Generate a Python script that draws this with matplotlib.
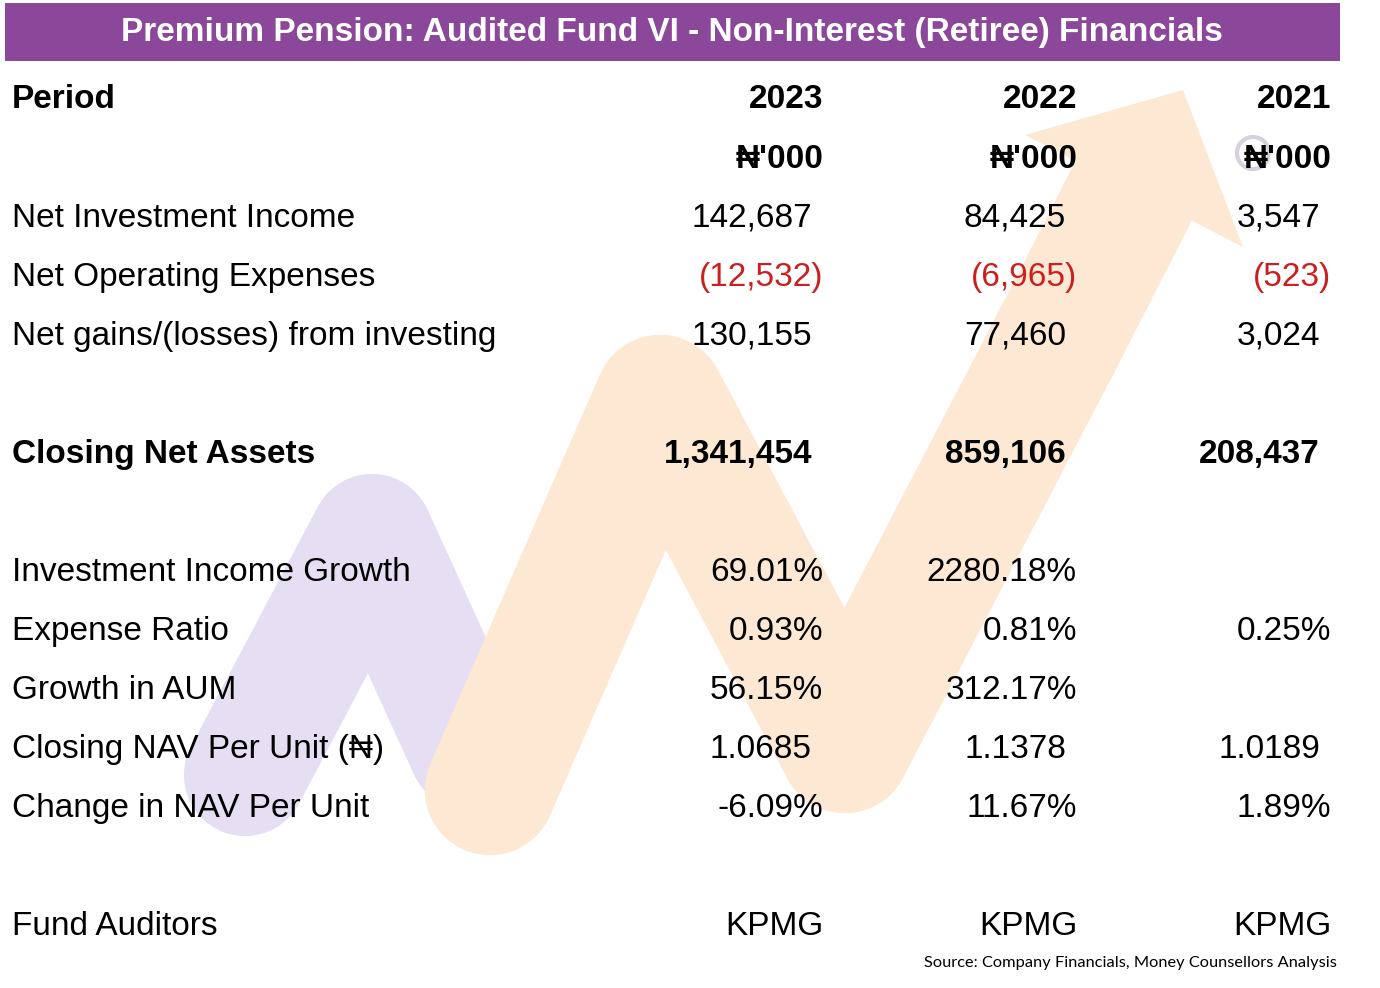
import matplotlib.pyplot as plt
from matplotlib.patches import Rectangle, Polygon, Circle

# ----------------------------------------------------------------------------- #
#                                   DATOS
# ----------------------------------------------------------------------------- #
titulo = "Premium Pension: Audited Fund VI - Non-Interest (Retiree) Financials"
fuente = "Source: Company Financials, Money Counsellors Analysis"

anios = ["2023", "2022", "2021"]
unidad = "\u20a6'000"

net_investment_income = [142687, 84425, 3547]
net_operating_expenses = [-12532, -6965, -523]
net_gains = [130155, 77460, 3024]
closing_net_assets = [1341454, 859106, 208437]

investment_income_growth = [69.01, 2280.18, None]
expense_ratio = [0.93, 0.81, 0.25]
growth_in_aum = [56.15, 312.17, None]
closing_nav = [1.0685, 1.1378, 1.0189]
change_in_nav = [-6.09, 11.67, 1.89]
auditores = ["KPMG", "KPMG", "KPMG"]

# ----------------------------------------------------------------------------- #
#                                  ESTILO
# ----------------------------------------------------------------------------- #
FAM = ["Liberation Sans", "DejaVu Sans"]
MORADO = "#8b4799"
ROJO = "#cc1f1f"
LAVANDA = "#e6def2"
NARANJA = "#fce8d3"
FS = 24

col_x = [823, 1077, 1331]      # borde derecho de cada columna
pad = 11                       # espacio para el paréntesis (formato contable)
y0, dy = 100, 59               # fila inicial y separación


def fila(k):
    return y0 + dy * k


def fmt_monto(v):
    return f"({-v:,})" if v < 0 else f"{v:,}"


fig = plt.figure(figsize=(13.8, 9.88), dpi=100)
ax = fig.add_axes([0, 0, 1, 1])
ax.set_xlim(0, 1380)
ax.set_ylim(988, 0)
ax.axis("off")

# --------------------- MARCA DE AGUA (flecha) --------------------- #
ax.plot([245, 372, 470], [775, 535, 750], color=LAVANDA, lw=88,
        solid_capstyle="round", solid_joinstyle="round", zorder=1)
ax.plot([490, 660, 845, 1060], [790, 400, 748, 335], color=NARANJA, lw=94,
        solid_capstyle="round", solid_joinstyle="round", zorder=1)
ax.plot([1050, 1134], [355, 190], color=NARANJA, lw=94,
        solid_capstyle="butt", zorder=1)
ax.add_patch(Polygon([[1183, 90], [1025, 135], [1243, 247]], closed=True,
                     facecolor=NARANJA, lw=0, zorder=1))

# --------------------- TÍTULO --------------------- #
ax.add_patch(Rectangle((5, 3), 1335, 58, facecolor=MORADO, edgecolor="none", zorder=2))
ax.text(672, 33, titulo, color="white", fontsize=24, fontweight="bold",
        family=FAM, ha="center", va="center", zorder=3)

# --------------------- TABLA --------------------- #
def etiqueta(k, txt, bold=False):
    ax.text(12, fila(k), txt, fontsize=FS, family=FAM, ha="left", va="center",
            fontweight="bold" if bold else "normal", zorder=3)


def celda(k, j, txt, dx=0, color="black", bold=False):
    ax.text(col_x[j] - dx, fila(k), txt, fontsize=FS, family=FAM, ha="right",
            va="center", color=color, fontweight="bold" if bold else "normal", zorder=3)


etiqueta(0, "Period", bold=True)
for j, a in enumerate(anios):
    celda(0, j, a, bold=True)
    celda(1, j, unidad, bold=True)

# anillo gris alrededor del símbolo de 2021
ax.add_patch(Circle((1253, 153), 16, facecolor="none", edgecolor=(0.6, 0.55, 0.66),
                    alpha=0.4, lw=3, zorder=2))

montos = [
    (2, "Net Investment Income", net_investment_income, False),
    (3, "Net Operating Expenses", net_operating_expenses, False),
    (4, "Net gains/(losses) from investing", net_gains, False),
    (6, "Closing Net Assets", closing_net_assets, True),
]
for k, nombre, valores, negrita in montos:
    etiqueta(k, nombre, bold=negrita)
    for j, v in enumerate(valores):
        if v < 0:
            celda(k, j, fmt_monto(v), color=ROJO)
        else:
            celda(k, j, fmt_monto(v), dx=pad, bold=negrita)

porcentajes = [
    (8, "Investment Income Growth", investment_income_growth),
    (9, "Expense Ratio", expense_ratio),
    (10, "Growth in AUM", growth_in_aum),
    (12, "Change in NAV Per Unit", change_in_nav),
]
for k, nombre, valores in porcentajes:
    etiqueta(k, nombre)
    for j, v in enumerate(valores):
        if v is not None:
            celda(k, j, f"{v:.2f}%")

etiqueta(11, "Closing NAV Per Unit (\u20a6)")
for j, v in enumerate(closing_nav):
    celda(11, j, f"{v:.4f}", dx=pad)

etiqueta(14, "Fund Auditors")
for j, v in enumerate(auditores):
    celda(14, j, v)

ax.text(1337, 963, fuente, fontsize=11.8, family=["Lato", "DejaVu Sans"],
        ha="right", va="center", zorder=3)

fig.savefig("out.png", dpi=100)
